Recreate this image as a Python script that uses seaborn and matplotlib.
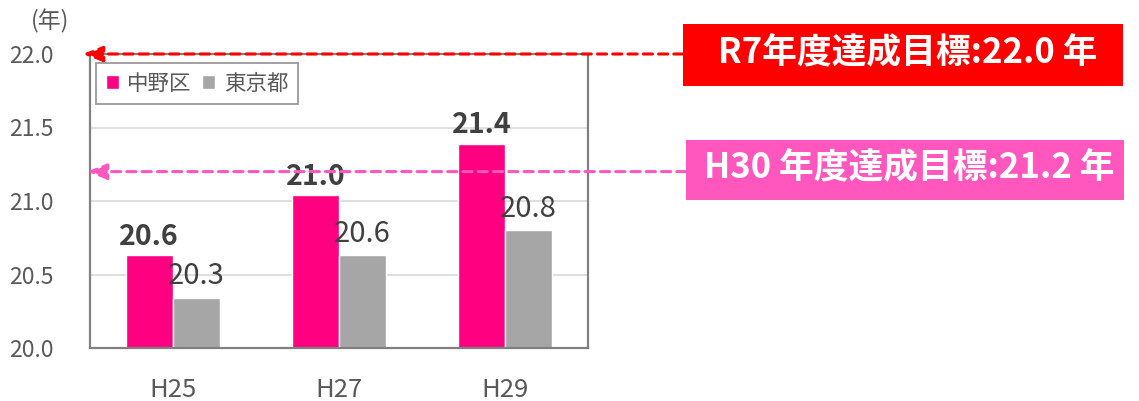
import matplotlib
matplotlib.use("Agg")
import matplotlib.pyplot as plt
import seaborn as sns
import pandas as pd
from matplotlib.patches import Rectangle

categories = ["H25", "H27", "H29"]
nakano = [20.63, 21.04, 21.39]
tokyo = [20.34, 20.63, 20.80]
nakano_labels = ["20.6", "21.0", "21.4"]
tokyo_labels = ["20.3", "20.6", "20.8"]
series_names = ["中野区", "東京都"]
yticks = [20.0, 20.5, 21.0, 21.5, 22.0]
target_r7 = 22.0
target_h30 = 21.2
target_r7_text = "R7年度達成目標:22.0 年"
target_h30_text = "H30 年度達成目標:21.2 年"

sns.set_theme(style="white")
plt.rcParams['font.family'] = ['Noto Sans CJK JP', 'DejaVu Sans']

df = pd.DataFrame({
    "year": categories * 2,
    "value": nakano + tokyo,
    "series": [series_names[0]] * 3 + [series_names[1]] * 3,
})

fig = plt.figure(figsize=(11.39, 4.01), dpi=100)
ax = fig.add_axes([90 / 1139, 1 - 348 / 401, (588 - 90) / 1139, (348 - 54) / 401])

palette = {series_names[0]: "#FF0080", series_names[1]: "#A6A6A6"}
sns.barplot(data=df, x="year", y="value", hue="series", palette=palette,
            width=0.57, ax=ax, saturation=1, legend=True)

ax.set_ylim(20.0, 22.0)
ax.set_yticks(yticks)
ax.set_yticklabels([f"{t:.1f}" for t in yticks], color="#595959", fontsize=16.5)
for lab in ax.get_yticklabels():
    lab.set_horizontalalignment("left")
ax.tick_params(axis="y", length=0, pad=58)
ax.tick_params(axis="x", length=0, pad=21, labelsize=18.5, labelcolor="#595959")
ax.set_xlabel("")
ax.set_ylabel("")
ax.grid(axis="y", color="#D9D9D9", linewidth=1.2)
ax.set_axisbelow(True)
for s in ax.spines.values():
    s.set_color("#808080")
    s.set_linewidth(1.6)

# Data labels
c0, c1 = ax.containers[0], ax.containers[1]
for bar, lab in zip(c0, nakano_labels):
    ax.text(bar.get_x() + bar.get_width() / 2, bar.get_height() + 0.03, lab,
            ha="center", va="bottom", fontsize=20.5, fontweight="bold", color="#404040")
for bar, lab in zip(c1, tokyo_labels):
    ax.text(bar.get_x() + bar.get_width() / 2, bar.get_height() + 0.045, lab,
            ha="center", va="bottom", fontsize=21, color="#404040")

leg = ax.legend(loc="upper left", bbox_to_anchor=(0.012, 0.969), borderaxespad=0,
                frameon=True, fancybox=False, edgecolor="#808080", fontsize=15.5,
                handlelength=0.6, handleheight=0.6, handletextpad=0.4,
                columnspacing=0.5, ncol=2, borderpad=0.45)
leg.get_frame().set_linewidth(1.3)
for t in leg.get_texts():
    t.set_color("#595959")

fig.text(31 / 1139, 1 - 21 / 401, "(年)", fontsize=16.5, color="#595959",
         ha="left", va="center")

# Target boxes
fig.patches.append(Rectangle((683 / 1139, 1 - 86 / 401), 440 / 1139, 62 / 401,
                             transform=fig.transFigure, facecolor="#FF0000",
                             edgecolor="none", zorder=3))
fig.text((683 + 1123) / 2 / 1139 + 0.004, 1 - 53 / 401, target_r7_text, color="white",
         fontsize=25, fontweight="bold", ha="center", va="center", zorder=4)
fig.patches.append(Rectangle((686 / 1139, 1 - 200 / 401), 438 / 1139, 60 / 401,
                             transform=fig.transFigure, facecolor="#FF57BE",
                             edgecolor="none", zorder=3))
fig.text((686 + 1124) / 2 / 1139 + 0.004, 1 - 168 / 401, target_h30_text, color="white",
         fontsize=25, fontweight="bold", ha="center", va="center", zorder=4)

# Arrows
trans = ax.get_yaxis_transform()
ax.annotate("", xy=(-7 / 498, target_r7), xycoords=trans,
            xytext=(683 / 1139, target_r7), textcoords=("figure fraction", trans),
            arrowprops=dict(arrowstyle="-|>,head_length=1.0,head_width=0.4",
                            color="#FF0000", lw=2.2, linestyle=(0, (3, 2)),
                            shrinkA=0, shrinkB=0),
            annotation_clip=False)
ax.annotate("", xy=(-3 / 498, target_h30), xycoords=trans,
            xytext=(686 / 1139, target_h30), textcoords=("figure fraction", trans),
            arrowprops=dict(arrowstyle="-|>,head_length=1.0,head_width=0.4",
                            color="#FF57BE", lw=2.2, linestyle=(0, (3, 2)),
                            shrinkA=0, shrinkB=0),
            annotation_clip=False)

fig.savefig("out.png", dpi=100)
